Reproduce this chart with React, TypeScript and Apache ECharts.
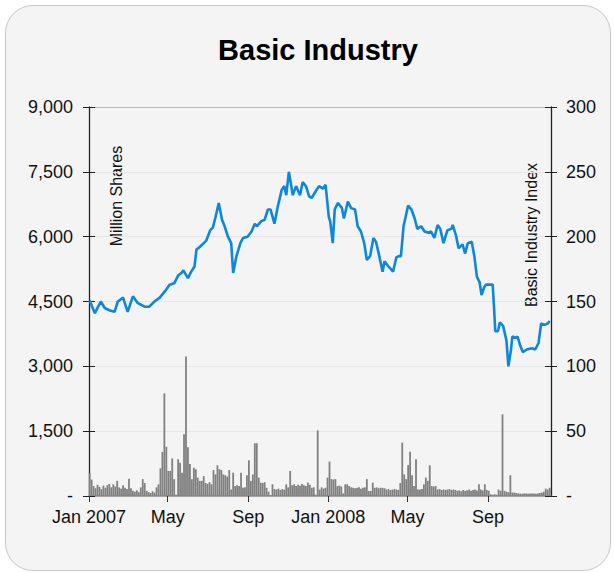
import React, { useEffect, useRef } from "react";
import * as echarts from "echarts";

// ---- Data ----
const chartTitle = "Basic Industry";
const leftAxisName = "Million Shares";
const rightAxisName = "Basic Industry Index";

const xTickDates = ["2007-01-01", "2007-05-01", "2007-09-01", "2008-01-01", "2008-05-01", "2008-09-01"];
const xTickLabels = ["Jan 2007", "May", "Sep", "Jan 2008", "May", "Sep"];
const xMinDate = "2007-01-01";
const xMaxDate = "2008-12-06";

// Basic Industry Index (right axis)
const indexDates = [
  "2007-01-02", "2007-01-05", "2007-01-10", "2007-01-15", "2007-01-19", "2007-01-25", "2007-02-02", "2007-02-09",
  "2007-02-14", "2007-02-22", "2007-03-01", "2007-03-09", "2007-03-16", "2007-03-27", "2007-04-03", "2007-04-11",
  "2007-04-19", "2007-04-27", "2007-05-04", "2007-05-11", "2007-05-17", "2007-05-22", "2007-05-25", "2007-06-01",
  "2007-06-06", "2007-06-11", "2007-06-14", "2007-06-19", "2007-06-25", "2007-06-29", "2007-07-05", "2007-07-09",
  "2007-07-13", "2007-07-18", "2007-07-23", "2007-07-27", "2007-08-01", "2007-08-06", "2007-08-09", "2007-08-14",
  "2007-08-20", "2007-08-24", "2007-08-31", "2007-09-06", "2007-09-11", "2007-09-14", "2007-09-21", "2007-09-26",
  "2007-10-01", "2007-10-05", "2007-10-11", "2007-10-16", "2007-10-22", "2007-10-26", "2007-10-29", "2007-11-02",
  "2007-11-08", "2007-11-13", "2007-11-19", "2007-11-23", "2007-11-28", "2007-12-03", "2007-12-07", "2007-12-13",
  "2007-12-18", "2007-12-24", "2007-12-28", "2008-01-02", "2008-01-04", "2008-01-08", "2008-01-11", "2008-01-16",
  "2008-01-22", "2008-01-25", "2008-01-31", "2008-02-05", "2008-02-11", "2008-02-15", "2008-02-20", "2008-02-25",
  "2008-02-29", "2008-03-05", "2008-03-10", "2008-03-14", "2008-03-19", "2008-03-24", "2008-03-27", "2008-04-02",
  "2008-04-09", "2008-04-14", "2008-04-18", "2008-04-21", "2008-04-25", "2008-05-02", "2008-05-07", "2008-05-12",
  "2008-05-16", "2008-05-22", "2008-05-27", "2008-06-02", "2008-06-06", "2008-06-11", "2008-06-16", "2008-06-20",
  "2008-06-25", "2008-07-01", "2008-07-07", "2008-07-09", "2008-07-14", "2008-07-18", "2008-07-24", "2008-07-28",
  "2008-08-01", "2008-08-07", "2008-08-11", "2008-08-15", "2008-08-19", "2008-08-22", "2008-08-26", "2008-08-29",
  "2008-09-08", "2008-09-10", "2008-09-12", "2008-09-16", "2008-09-19", "2008-09-24", "2008-09-29", "2008-10-02",
  "2008-10-06", "2008-10-08", "2008-10-13", "2008-10-16", "2008-10-20", "2008-10-24", "2008-10-30", "2008-11-07",
  "2008-11-12", "2008-11-17", "2008-11-21", "2008-11-26", "2008-12-01", "2008-12-04",
];
const indexValues = [
  151, 147, 141, 146, 150, 145, 143, 142,
  150, 153, 142, 154, 149, 146, 146, 150,
  153, 158, 163, 164, 170, 172, 174, 168,
  173, 177, 190, 192, 195, 197, 205, 207,
  215, 226, 213, 208, 200, 195, 172, 185,
  195, 199, 200, 204, 210, 208, 212, 213,
  221, 221, 210, 223, 236, 239, 232, 250,
  232, 239, 232, 242, 239, 231, 230, 235,
  239, 237, 240, 215, 212, 195, 221, 226,
  222, 214, 227, 222, 221, 208, 204, 195,
  182, 185, 199, 196, 185, 173, 181, 177,
  173, 184, 185, 185, 208, 224, 221, 214,
  206, 208, 204, 203, 204, 199, 209, 206,
  195, 205, 206, 209, 201, 191, 194, 187,
  195, 196, 185, 169, 165, 155, 161, 163,
  163, 146, 127, 127, 134, 131, 120, 100,
  113, 123, 122, 123, 116, 111, 113, 114,
  113, 118, 133, 132, 133, 135,
];

// Volume, million shares (left axis): one value every 3 calendar days from volumeStart
const volumeStart = "2007-01-02";
const volumeStepDays = 3;
const volumeValues = [
  520, 380, 230, 180, 260, 210, 160, 240, 190, 250,
  280, 200, 270, 220, 350, 200, 170, 250, 190, 160,
  400, 180, 120, 100, 130, 90, 200, 390, 300, 120,
  90, 70, 110, 80, 200, 270, 640, 1020, 2375, 1140,
  580, 580, 870, 390, 30, 850, 770, 540, 1430, 3225,
  1130, 740, 390, 655, 620, 425, 350, 350, 460, 300,
  280, 320, 270, 600, 500, 710, 620, 600, 500, 480,
  450, 600, 150, 540, 230, 250, 230, 540, 190, 200,
  480, 825, 350, 500, 1220, 1220, 425, 310, 300, 320,
  190, 100, 20, 270, 160, 150, 170, 140, 160, 150,
  270, 200, 580, 250, 270, 230, 260, 240, 280, 250,
  230, 310, 260, 190, 200, 30, 1520, 150, 200, 170,
  190, 425, 795, 390, 380, 390, 230, 240, 220, 60,
  270, 270, 230, 200, 190, 180, 190, 200, 170, 190,
  200, 390, 115, 115, 310, 190, 200, 180, 190, 190,
  180, 150, 160, 140, 150, 160, 150, 140, 300, 1235,
  500, 390, 715, 1025, 480, 230, 850, 150, 150, 160,
  270, 425, 350, 710, 230, 220, 230, 150, 160, 140,
  150, 140, 150, 160, 140, 150, 140, 120, 130, 110,
  140, 120, 130, 150, 120, 140, 150, 130, 270, 150,
  130, 270, 140, 120, 40, 30, 40, 30, 150, 120,
  1890, 120, 100, 90, 480, 80, 80, 70, 60, 55,
  50, 60, 55, 50, 60, 55, 60, 50, 60, 70,
  80, 100, 170, 150, 190,
];

const leftMax = 9000;
const leftInterval = 1500;
const rightMax = 300;
const rightInterval = 50;

// ---- helpers: dates -> day number since xMinDate (value axis) ----
const DAY = 86400000;
const utc = (s: string) => {
  const [y, m, d] = s.split("-").map(Number);
  return Date.UTC(y, m - 1, d);
};
const dayNum = (s: string) => Math.round((utc(s) - utc(xMinDate)) / DAY);

const FONT = "'Liberation Sans', Arial, Helvetica, sans-serif";

export default function App() {
  const ref = useRef<HTMLDivElement>(null);

  useEffect(() => {
    if (!ref.current) return;
    const chart = echarts.init(ref.current, undefined, { renderer: "svg" });

    const volStartDay = dayNum(volumeStart);
    const volumeData = volumeValues.map((v, i) => [volStartDay + i * volumeStepDays, v]);
    const indexData = indexDates.map((d, i) => [dayNum(d), indexValues[i]]);
    const tickDays = xTickDates.map(dayNum);

    const labelFor = (val: number) => {
      const i = tickDays.findIndex((t) => Math.abs(t - val) < 0.5);
      return i >= 0 ? xTickLabels[i] : "";
    };

    const gridColors = ["#e6e6e6", "#e6e6e6", "#e6e6e6", "#e6e6e6", "#e6e6e6", "#e6e6e6", "#b8b8b8"];

    chart.setOption({
      animation: false,
      backgroundColor: "transparent",
      textStyle: { fontFamily: FONT },
      grid: { left: 89, right: 63, top: 107, bottom: 77, containLabel: false },
      xAxis: {
        type: "value",
        min: 0,
        max: dayNum(xMaxDate),
        axisLine: { show: true, onZero: false, lineStyle: { color: "#8c8c8c", width: 1.5 } },
        axisTick: {
          show: true,
          length: 6,
          customValues: tickDays,
          lineStyle: { color: "#333", width: 1 },
        },
        axisLabel: {
          customValues: tickDays,
          formatter: (v: number) => labelFor(v),
          fontSize: 18,
          color: "#111",
          margin: 12,
          fontFamily: FONT,
        },
        splitLine: { show: false },
      },
      yAxis: [
        {
          type: "value",
          position: "left",
          min: 0,
          max: leftMax,
          interval: leftInterval,
          axisLine: { show: true, lineStyle: { color: "#222", width: 1.3 } },
          axisTick: { show: true, length: 6, lineStyle: { color: "#222" } },
          axisLabel: {
            fontSize: 18,
            color: "#111",
            margin: 16,
            fontFamily: FONT,
            formatter: (v: number) => (v === 0 ? "-" : v.toLocaleString("en-US")),
          },
          splitLine: { show: true, lineStyle: { color: gridColors, width: 1 } },
        },
        {
          type: "value",
          position: "right",
          min: 0,
          max: rightMax,
          interval: rightInterval,
          axisLine: { show: true, lineStyle: { color: "#222", width: 1.3 } },
          axisTick: { show: true, length: 6, lineStyle: { color: "#222" } },
          axisLabel: {
            fontSize: 18,
            color: "#111",
            margin: 15,
            fontFamily: FONT,
            formatter: (v: number) => (v === 0 ? "-" : String(v)),
          },
          splitLine: { show: false },
        },
        {
          type: "value",
          position: "left",
          min: 0,
          max: leftMax,
          interval: leftInterval,
          axisLine: { show: false },
          axisTick: { show: true, inside: true, length: 6, lineStyle: { color: "#222" } },
          axisLabel: { show: false },
          splitLine: { show: false },
        },
        {
          type: "value",
          position: "right",
          min: 0,
          max: rightMax,
          interval: rightInterval,
          axisLine: { show: false },
          axisTick: { show: true, inside: true, length: 6, lineStyle: { color: "#222" } },
          axisLabel: { show: false },
          splitLine: { show: false },
        },
      ],
      series: [
        {
          name: "Volume",
          type: "bar",
          yAxisIndex: 0,
          data: volumeData,
          barWidth: 1.8,
          itemStyle: { color: "#808080" },
          silent: true,
          z: 1,
        },
        {
          name: "Index",
          type: "line",
          yAxisIndex: 1,
          data: indexData,
          showSymbol: false,
          symbol: "none",
          lineStyle: { color: "#0d87db", width: 2.6 },
          z: 3,
        },
      ],
      graphic: [
        {
          type: "text",
          x: 318,
          y: 50,
          style: {
            text: chartTitle,
            fontSize: 29,
            fontWeight: "bold",
            fontFamily: FONT,
            fill: "#000",
            textAlign: "center",
            textVerticalAlign: "middle",
          },
        },
        {
          type: "text",
          x: 116,
          y: 196,
          rotation: Math.PI / 2,
          style: {
            text: leftAxisName,
            fontSize: 16,
            fontFamily: FONT,
            fill: "#111",
            textAlign: "center",
            textVerticalAlign: "middle",
          },
        },
        {
          type: "text",
          x: 531.5,
          y: 235,
          rotation: Math.PI / 2,
          style: {
            text: rightAxisName,
            fontSize: 16,
            fontFamily: FONT,
            fill: "#111",
            textAlign: "center",
            textVerticalAlign: "middle",
          },
        },
      ],
    });

    return () => chart.dispose();
  }, []);

  return (
    <div style={{ position: "fixed", left: 0, top: 0, width: 614, height: 573, background: "#fff", overflow: "hidden" }}>
      <div
        style={{
          position: "absolute",
          left: 5,
          top: 5,
          width: 606,
          height: 566,
          boxSizing: "border-box",
          border: "1px solid #c6c6c6",
          borderRadius: 28,
          background: "#f4f4f4",
        }}
      />
      <div ref={ref} style={{ position: "absolute", left: 0, top: 0, width: 614, height: 573 }} />
    </div>
  );
}
